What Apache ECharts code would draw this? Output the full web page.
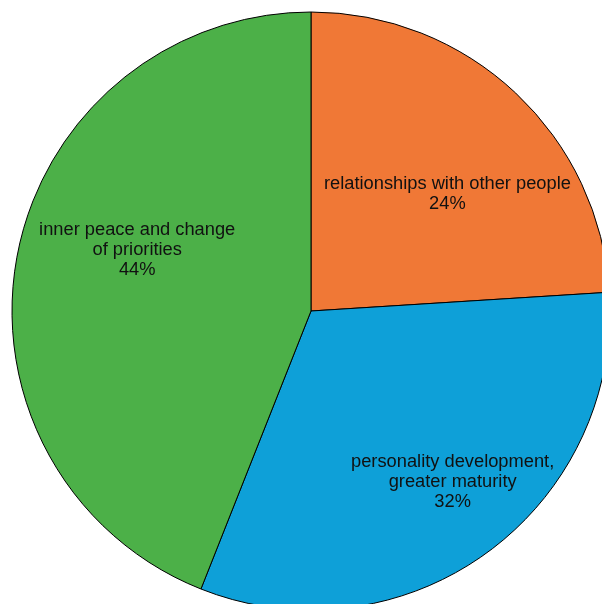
<!DOCTYPE html>
<html>
<head>
<meta charset="utf-8">
<style>
  html, body { margin: 0; padding: 0; background: #ffffff; }
  #chart { width: 602px; height: 604px; }
</style>
<script src="https://cdn.jsdelivr.net/npm/echarts@6/dist/echarts.min.js"></script>
</head>
<body>
<div id="chart"></div>
<script>
// Slice names and shares (percent), clockwise from 12 o'clock
const categories = [
  'relationships with other people',
  'personality development,\ngreater maturity',
  'inner peace and change\nof priorities'
];
const shares = [24, 32, 44];
const sliceColors = ['#F07836', '#0EA0D8', '#4CB048'];

// Nudges for each slice label away from the default inside spot
const labelNudges = [[32, -6], [52, 48], [-24, -32]];

const chart = echarts.init(document.getElementById('chart'), null, { renderer: 'canvas' });

chart.setOption({
  animation: false,
  color: sliceColors,
  series: [{
    type: 'pie',
    center: [311, 311],
    radius: 299,
    startAngle: 90,
    clockwise: true,
    data: categories.map((name, i) => ({ name: name, value: shares[i] })),
    itemStyle: { borderColor: '#000000', borderWidth: 1 },
    label: {
      show: true,
      position: 'inside',
      formatter: '{b}\n{d}%',
      fontFamily: 'Liberation Sans, Arial, sans-serif',
      fontSize: 18.3,
      lineHeight: 20,
      color: '#111111',
      align: 'center'
    },
    labelLine: { show: false },
    labelLayout: function (params) {
      const n = labelNudges[params.dataIndex] || [0, 0];
      return { dx: n[0], dy: n[1] };
    },
    emphasis: { disabled: true }
  }]
});
</script>
</body>
</html>
